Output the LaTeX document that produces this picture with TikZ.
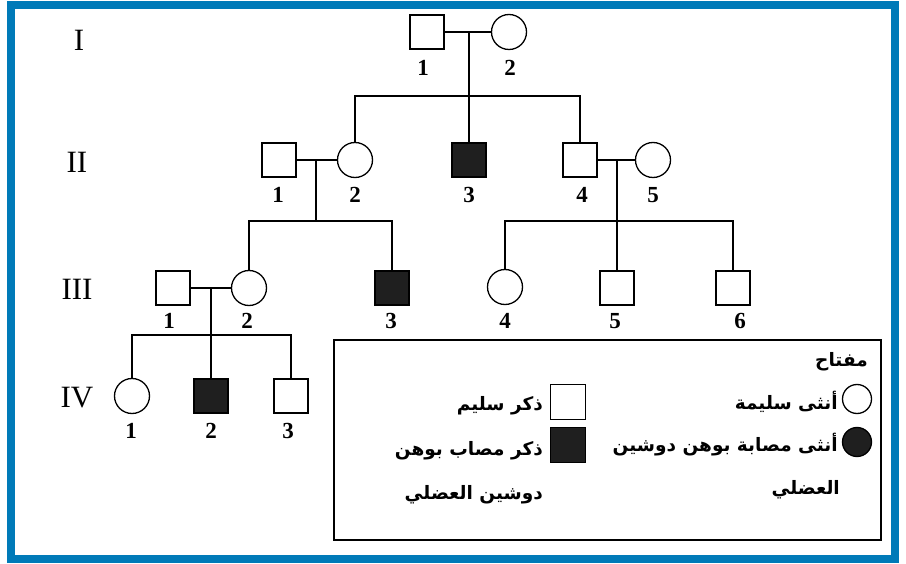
\documentclass[tikz,border=0pt]{standalone}
\usepackage{fontspec}
\setmainfont{Liberation Serif}
\newfontfamily\arabicfont[Script=Arabic]{DejaVu Sans}
\TeXXeTstate=1
\definecolor{framecol}{RGB}{0,122,184}
\begin{document}
\begin{tikzpicture}[x=1pt,y=-1pt,
  male/.style={draw, line width=1.3pt, rectangle, minimum size=34pt, inner sep=0pt, fill=white},
  female/.style={draw, line width=1.3pt, circle, minimum size=35pt, inner sep=0pt, fill=white},
  aff/.style={fill=black!88},
  lnk/.style={line width=2.5pt},
  num/.style={font=\fontsize{23}{23}\selectfont\bfseries, inner sep=0pt},
  gen/.style={font=\fontsize{31}{31}\selectfont, inner sep=0pt},
  ar/.style={font=\fontsize{18.5}{18.5}\selectfont\arabicfont\bfseries, inner sep=0pt, anchor=east},
  lmale/.style={draw, line width=1.3pt, rectangle, minimum size=35pt, inner sep=0pt},
  lfem/.style={draw, line width=1.3pt, circle, minimum size=29pt, inner sep=0pt}
]
\useasboundingbox (0,0) rectangle (906,564);
\fill[white] (0,0) rectangle (906,564);
\draw[line width=8pt, framecol] (11,5) rectangle (895,559);

% generation labels
\node[gen] (gI) at (79,40) {I};
\node[gen] (gII) at (77,162) {II};
\node[gen] (gIII) at (77,289) {III};
\node[gen] (gIV) at (77,398) {IV};

% junction coordinates
\coordinate (d1) at (469,32);  \coordinate (s1) at (469,96);
\coordinate (d2) at (316,160); \coordinate (s2) at (316,221);
\coordinate (d3) at (617,160); \coordinate (s3) at (617,221);
\coordinate (d4) at (211,288); \coordinate (s4) at (211,335);

% generation I
\node[male] (I1) at (427,32) {};
\node[female] (I2) at (509,32) {};
% generation II
\node[male] (II1) at (279,160) {};
\node[female] (II2) at (355,160) {};
\node[male,aff] (II3) at (469,160) {};
\node[male] (II4) at (580,160) {};
\node[female] (II5) at (653,160) {};
% generation III
\node[male] (III1) at (173,288) {};
\node[female] (III2) at (249,288) {};
\node[male,aff] (III3) at (392,288) {};
\node[female] (III4) at (505,287) {};
\node[male] (III5) at (617,288) {};
\node[male] (III6) at (733,288) {};
% generation IV
\node[female] (IV1) at (132,396) {};
\node[male,aff] (IV2) at (211,396) {};
\node[male] (IV3) at (291,396) {};

% connectors
\draw[lnk] (I1.east) -- (I2.west);
\draw[lnk] (d1) -- (s1);
\draw[lnk] (II2.north) |- (s1) -| (II4.north);
\draw[lnk] (s1) -- (II3.north);

\draw[lnk] (II1.east) -- (II2.west);
\draw[lnk] (d2) -- (s2);
\draw[lnk] (III2.north) |- (s2) -| (III3.north);

\draw[lnk] (II4.east) -- (II5.west);
\draw[lnk] (d3) -- (s3);
\draw[lnk] (III4.north) |- (s3) -| (III6.north);
\draw[lnk] (s3) -- (III5.north);

\draw[lnk] (III1.east) -- (III2.west);
\draw[lnk] (d4) -- (s4);
\draw[lnk] (IV1.north) |- (s4) -| (IV3.north);
\draw[lnk] (s4) -- (IV2.north);

% numbers
\node[num] (nI1) at (423,68) {1};
\node[num] (nI2) at (510,68) {2};
\node[num] (nII1) at (278,195) {1};
\node[num] (nII2) at (355,195) {2};
\node[num] (nII3) at (469,195) {3};
\node[num] (nII4) at (582,195) {4};
\node[num] (nII5) at (653,195) {5};
\node[num] (nIII1) at (169,321) {1};
\node[num] (nIII2) at (247,321) {2};
\node[num] (nIII3) at (391,321) {3};
\node[num] (nIII4) at (505,321) {4};
\node[num] (nIII5) at (615,321) {5};
\node[num] (nIII6) at (740,321) {6};
\node[num] (nIV1) at (131,431) {1};
\node[num] (nIV2) at (211,431) {2};
\node[num] (nIV3) at (288,431) {3};

% legend
\node[draw, line width=2pt, rectangle, minimum width=547pt, minimum height=200pt, inner sep=0pt, anchor=north west] (key) at (333,339) {};
\node[ar] (kt) at (868,362) {\beginR مفتاح\endR};
\node[lfem] (kf) at (857,399) {};
\node[lfem, fill=black!88] (kfa) at (857,442) {};
\node[ar] (tf) at (838,402) {\beginR أنثى سليمة\endR};
\node[ar] (tfa) at (838,445) {\beginR أنثى مصابة بوهن دوشين\endR};
\node[ar] (tfa2) at (840,490) {\beginR العضلي\endR};
\node[lmale] (km) at (568,402) {};
\node[lmale, fill=black!88] (kma) at (568,445) {};
\node[ar] (tm) at (543,406) {\beginR ذكر سليم\endR};
\node[ar] (tma) at (543,451) {\beginR ذكر مصاب بوهن\endR};
\node[ar] (tma2) at (543,495) {\beginR دوشين العضلي\endR};
\end{tikzpicture}
\end{document}
